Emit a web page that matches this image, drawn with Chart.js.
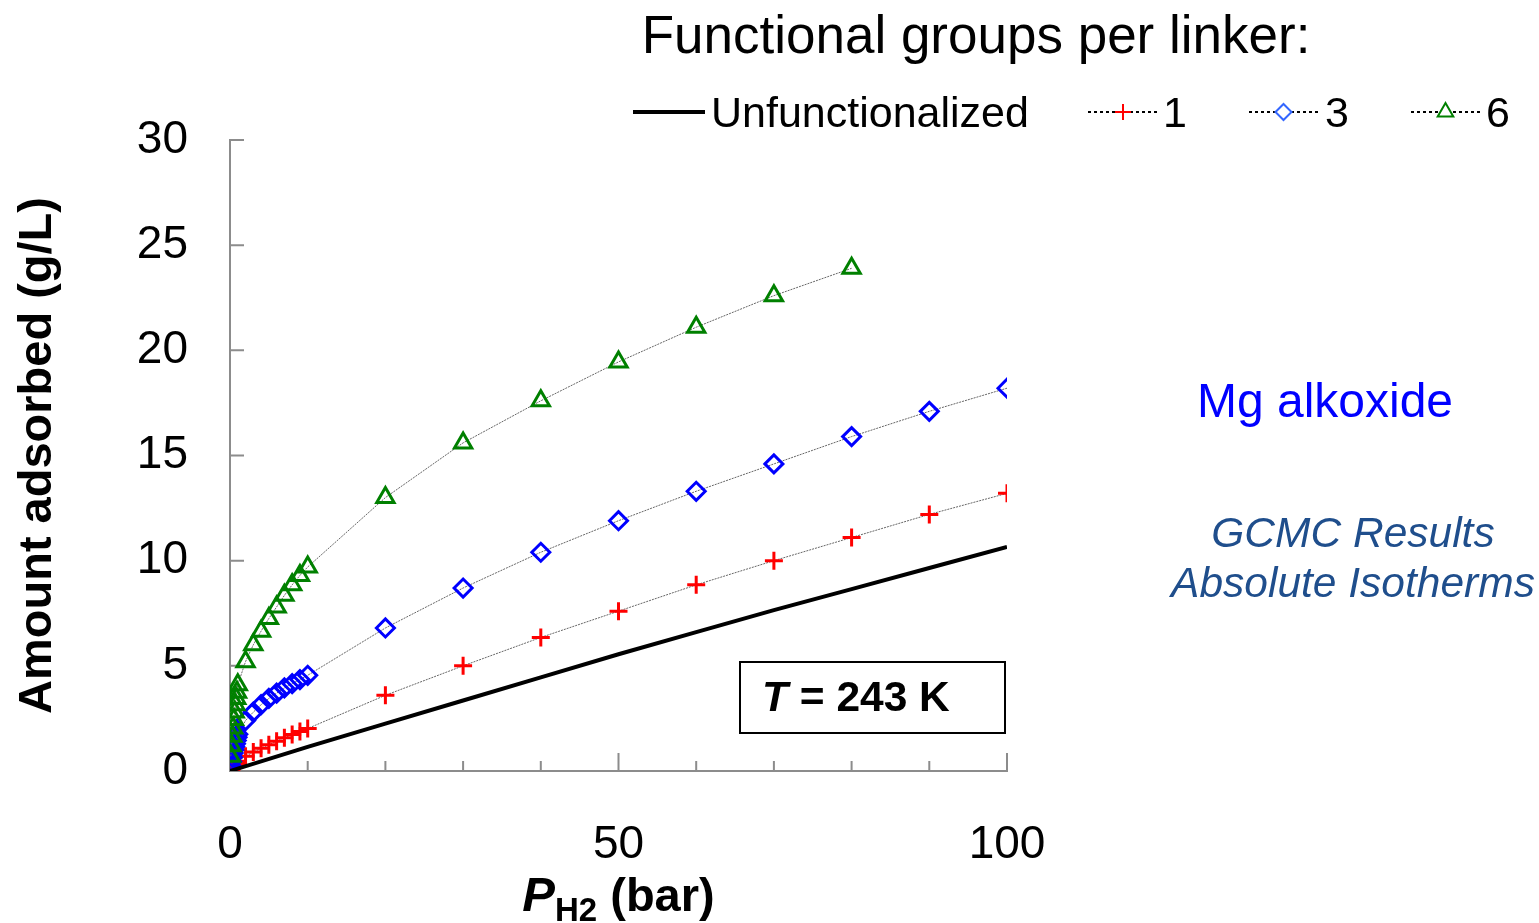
<!DOCTYPE html>
<html>
<head>
<meta charset="utf-8">
<script src="https://cdn.jsdelivr.net/npm/chart.js@4/dist/chart.umd.min.js"></script>
<style>
  body { margin: 0; background: #fff; font-family: Arial, "Liberation Sans", sans-serif; }
  #wrap { position: relative; width: 1539px; height: 923px; overflow: hidden; }
  canvas { position: absolute; left: 0; top: 0; }
  .txt { position: absolute; white-space: nowrap; }
  #title { left: 976px; top: 4px; transform: translateX(-50%); font-size: 53px; }
  #mg { left: 1325px; top: 373px; transform: translateX(-50%); font-size: 48px; color: #0000ff; }
  #gcmc { left: 1353px; top: 508px; transform: translateX(-50%); font-size: 42.5px; font-style: italic; color: #1f4e8c; text-align: center; line-height: 50px; }
  #tbox { left: 739px; top: 661px; width: 263px; height: 69px; border: 2px solid #000; font-size: 42.5px; font-weight: bold; }
  #tbox span { position: absolute; left: 21px; top: 10px; }
</style>
</head>
<body>
<div id="wrap">
  <canvas id="chart" width="1539" height="923"></canvas>
  <div class="txt" id="title">Functional groups per linker:</div>
  <div class="txt" id="mg">Mg alkoxide</div>
  <div class="txt" id="gcmc">GCMC Results<br>Absolute Isotherms</div>
  <div class="txt" id="tbox"><span><i>T</i> = 243 K</span></div>
</div>
<script>
// pressures (bar)
const pressure = [0.1, 0.2, 0.3, 0.4, 0.5, 0.6, 0.7, 0.8, 0.9, 1, 2, 3, 4, 5, 6, 7, 8, 9, 10,
  20, 30, 40, 50, 60, 70, 80, 90, 100];
const pressureUnf = [0, 10, 20, 30, 40, 50, 60, 70, 80, 90, 100];

// amount adsorbed (g/L)
const unfunctionalized = [0, 1.15, 2.25, 3.35, 4.45, 5.55, 6.6, 7.65, 8.65, 9.65, 10.65];
const groups1 = [0.06, 0.1, 0.15, 0.2, 0.25, 0.3, 0.34, 0.38, 0.42, 0.46,
  0.7, 0.9, 1.08, 1.25, 1.42, 1.58, 1.73, 1.88, 2.02,
  3.6, 5.0, 6.35, 7.6, 8.85, 10.0, 11.1, 12.2, 13.2];
const groups3 = [0.25, 0.45, 0.65, 0.85, 1.0, 1.15, 1.3, 1.45, 1.6, 1.75,
  2.4, 2.8, 3.15, 3.45, 3.7, 3.95, 4.15, 4.35, 4.55,
  6.8, 8.7, 10.4, 11.9, 13.3, 14.6, 15.9, 17.1, 18.2];
const groups6 = [0.7, 1.2, 1.65, 2.05, 2.45, 2.8, 3.15, 3.45, 3.75, 4.1,
  5.2, 6.0, 6.65, 7.25, 7.8, 8.35, 8.85, 9.3, 9.7,
  13.0, 15.6, 17.6, 19.45, 21.1, 22.6, 23.9];

const seriesLabels = ['Unfunctionalized', '1', '3', '6'];
const xTickLabels = [0, 50, 100];

function pts(xs, ys) {
  return ys.map((y, i) => ({ x: xs[i], y: y }));
}

const FONT = 'Arial, "Liberation Sans", sans-serif';
const AXIS = '#8c8c8c';
const legendColors = ['#000', '#ff0000', '#3366ff', '#008000'];

function markerSet(color, style, r) {
  return {
    borderColor: '#666',
    borderWidth: 1,
    borderDash: [2, 1],
    pointStyle: style,
    pointRadius: r,
    pointBorderColor: color,
    pointBackgroundColor: 'rgba(0,0,0,0)',
    pointBorderWidth: 3,
    showLine: true,
    tension: 0
  };
}

// inward tick marks on both axes
const innerTicks = {
  id: 'innerTicks',
  beforeDatasetsDraw(chart) {
    const ctx = chart.ctx, xs = chart.scales.x, ys = chart.scales.y;
    ctx.save();
    ctx.strokeStyle = AXIS;
    ctx.lineWidth = 2;
    ctx.beginPath();
    for (let v = 10; v <= 100; v += 10) {
      const px = xs.getPixelForValue(v);
      const len = v % 50 === 0 ? 18 : 10;
      ctx.moveTo(px, ys.bottom);
      ctx.lineTo(px, ys.bottom - len);
    }
    for (let v = 5; v <= 30; v += 5) {
      const py = ys.getPixelForValue(v);
      ctx.moveTo(xs.left, py);
      ctx.lineTo(xs.left + 14, py);
    }
    ctx.stroke();
    ctx.restore();
  }
};

// x axis title with subscript, and the legend row
const extras = {
  id: 'extras',
  afterDraw(chart) {
    const ctx = chart.ctx, xs = chart.scales.x;
    ctx.save();
    ctx.fillStyle = '#000';
    ctx.textBaseline = 'alphabetic';
    const parts = [
      { t: 'P', f: 'italic bold 49px ' + FONT, dy: 0 },
      { t: 'H2', f: 'bold 33px ' + FONT, dy: 10 },
      { t: ' (bar)', f: 'bold 47px ' + FONT, dy: 0 }
    ];
    let w = 0;
    parts.forEach(p => { ctx.font = p.f; w += ctx.measureText(p.t).width; });
    let x = (xs.left + xs.right) / 2 - w / 2;
    parts.forEach(p => {
      ctx.font = p.f;
      ctx.fillText(p.t, x, 911 + p.dy);
      x += ctx.measureText(p.t).width;
    });

    // legend
    const ly = 112;
    const items = [
      { x0: 633, x1: 705, tx: 711 },
      { x0: 1088, x1: 1158, tx: 1163 },
      { x0: 1249, x1: 1318, tx: 1325 },
      { x0: 1411, x1: 1480, tx: 1486 }
    ];
    ctx.font = '43px ' + FONT;
    ctx.textBaseline = 'middle';
    items.forEach((it, i) => {
      const ds = chart.data.datasets[i];
      ctx.beginPath();
      if (i === 0) {
        ctx.setLineDash([]);
        ctx.lineWidth = 4;
      } else {
        ctx.setLineDash([3, 3]);
        ctx.lineWidth = 2;
      }
      ctx.strokeStyle = '#000';
      ctx.moveTo(it.x0, ly);
      ctx.lineTo(it.x1, ly);
      ctx.stroke();
      ctx.setLineDash([]);
      if (i > 0) {
        ctx.save();
        ctx.strokeStyle = legendColors[i];
        ctx.fillStyle = '#fff';
        Chart.helpers.drawPoint(ctx, {
          pointStyle: ds.pointStyle,
          radius: ds.pointRadius - 1,
          borderWidth: 3,
          rotation: 0
        }, (it.x0 + it.x1) / 2, ly);
        ctx.restore();
      }
      ctx.fillStyle = '#000';
      ctx.fillText(seriesLabels[i], it.tx, ly + 3);
    });
    ctx.restore();
  }
};

new Chart(document.getElementById('chart'), {
  type: 'scatter',
  data: {
    datasets: [
      {
        label: seriesLabels[0],
        data: pts(pressureUnf, unfunctionalized),
        borderColor: '#000',
        borderWidth: 4,
        pointRadius: 0,
        showLine: true,
        tension: 0,
        order: 0
      },
      Object.assign({ label: seriesLabels[1], data: pts(pressure, groups1), order: 3 }, markerSet('#ff0000', 'cross', 9)),
      Object.assign({ label: seriesLabels[2], data: pts(pressure, groups3), order: 2 }, markerSet('#0000ff', 'rectRot', 9)),
      Object.assign({ label: seriesLabels[3], data: pts(pressure, groups6), order: 1 }, markerSet('#008000', 'triangle', 10))
    ]
  },
  options: {
    responsive: false,
    animation: false,
    layout: { padding: { left: 0, top: 140, right: 532, bottom: 52 } },
    plugins: { legend: { display: false }, tooltip: { enabled: false } },
    scales: {
      x: {
        type: 'linear',
        min: 0,
        max: 100,
        grid: { display: false, drawTicks: false },
        border: { display: true, color: AXIS, width: 2 },
        ticks: {
          stepSize: 10,
          padding: 47,
          color: '#000',
          font: { family: FONT, size: 46 },
          maxRotation: 0,
          autoSkip: false,
          callback: v => xTickLabels.includes(v) ? String(v) : ''
        },
        afterFit: s => { s.height = 100; }
      },
      y: {
        min: 0,
        max: 30,
        grid: { display: false, drawTicks: false },
        border: { display: true, color: AXIS, width: 2 },
        ticks: {
          stepSize: 5,
          padding: 42,
          color: '#000',
          font: { family: FONT, size: 46 }
        },
        title: {
          display: true,
          text: 'Amount adsorbed (g/L)',
          color: '#000',
          font: { family: FONT, size: 47, weight: 'bold' },
          padding: { top: 10, bottom: 0 }
        },
        afterFit: s => { s.width = 230; }
      }
    }
  },
  plugins: [innerTicks, extras]
});
</script>
</body>
</html>
